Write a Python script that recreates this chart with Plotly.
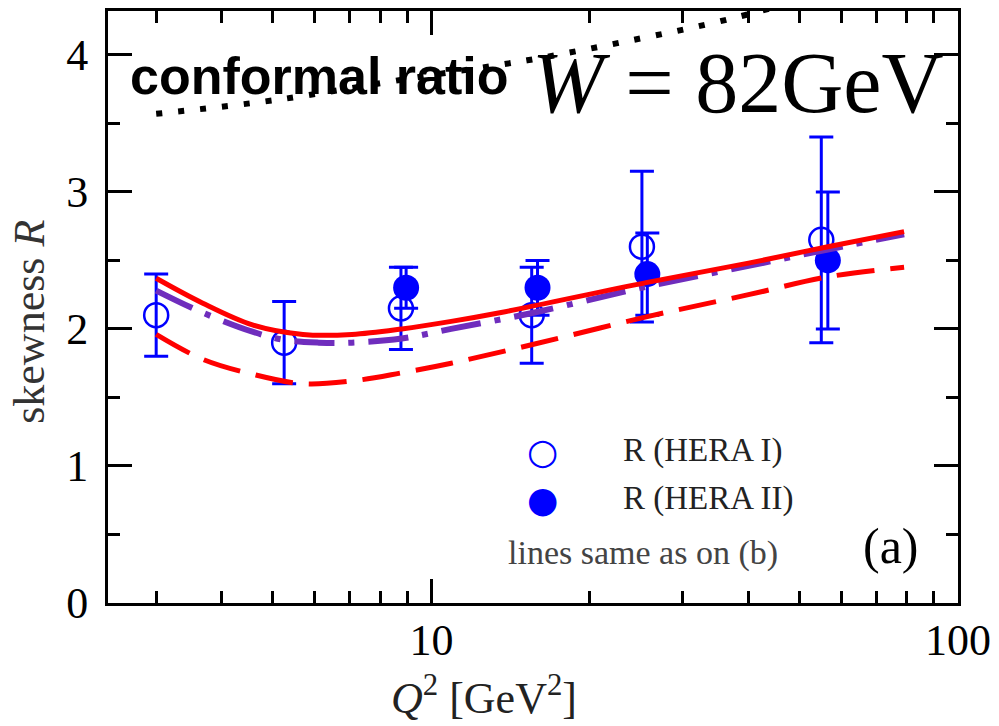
import plotly.graph_objects as go
import numpy as np

# HERA I / HERA II skewness ratio measurements
q2_hera1 = [3.0, 5.25, 8.75, 15.5, 25.1, 55.0]
r_hera1 = [2.10, 1.90, 2.15, 2.10, 2.60, 2.65]
err_hera1 = [0.30, 0.30, 0.30, 0.35, 0.55, 0.75]

q2_hera2 = [8.95, 15.9, 25.7, 56.6]
r_hera2 = [2.30, 2.30, 2.40, 2.50]
err_hera2 = [0.15, 0.20, 0.30, 0.50]

# model curves
q2_solid = [3.0, 3.67, 4.57, 5.7, 7.06, 8.78, 10.9, 13.56, 25.7, 40.0, 56.6, 79.0]
r_solid = [2.37, 2.19, 2.03, 1.96, 1.96, 2.00, 2.055, 2.12, 2.34, 2.48, 2.60, 2.71]

q2_dashdot = [3.0, 3.67, 4.57, 5.25, 6.11, 7.06, 8.78, 10.9, 15.7, 25.7, 40.0, 56.6, 79.0]
r_dashdot = [2.28, 2.12, 1.98, 1.92, 1.90, 1.90, 1.93, 2.00, 2.12, 2.31, 2.46, 2.58, 2.69]

q2_dashed = [3.0, 3.67, 4.57, 5.7, 7.06, 8.78, 10.9, 15.7, 25.7, 40.0, 56.6, 79.0]
r_dashed = [1.96, 1.78, 1.67, 1.60, 1.62, 1.68, 1.75, 1.89, 2.09, 2.25, 2.38, 2.45]

# conformal ratio
q2_conf = [3.0, 5.05, 9.17, 15.2, 20.9, 25.7, 31.4, 38.5, 46.0]
r_conf = [3.57, 3.67, 3.83, 3.96, 4.06, 4.13, 4.20, 4.28, 4.36]

BLUE = "#0000ff"
RED = "#ff0000"
PURPLE = "#6f2dbd"
SERIF = "Liberation Serif"

fig = go.Figure()

fig.add_trace(go.Scatter(
    x=q2_hera1, y=r_hera1, mode="markers", name="R (HERA I)",
    marker=dict(symbol="circle-open", size=24, color=BLUE, line=dict(width=2.5, color=BLUE)),
    error_y=dict(type="data", array=err_hera1, thickness=3, width=12, color=BLUE),
))
fig.add_trace(go.Scatter(
    x=q2_hera2, y=r_hera2, mode="markers", name="R (HERA II)",
    marker=dict(symbol="circle", size=26, color=BLUE),
    error_y=dict(type="data", array=err_hera2, thickness=3, width=12, color=BLUE),
))

fig.add_trace(go.Scatter(
    x=q2_conf, y=r_conf, mode="lines",
    line=dict(color="black", width=6, dash="6px,16px", shape="spline"),
))
fig.add_trace(go.Scatter(
    x=q2_dashed, y=r_dashed, mode="lines",
    line=dict(color=RED, width=5, dash="38px,16px", shape="spline"),
))
fig.add_trace(go.Scatter(
    x=q2_dashdot, y=r_dashdot, mode="lines",
    line=dict(color=PURPLE, width=6, dash="40px,14px,6px,14px", shape="spline"),
))
fig.add_trace(go.Scatter(
    x=q2_solid, y=r_solid, mode="lines",
    line=dict(color=RED, width=5, shape="spline"),
))

axis_common = dict(
    showline=True, linewidth=3, linecolor="black", mirror="allticks",
    ticks="inside", ticklen=24, tickwidth=3, tickcolor="black",
    showgrid=False, zeroline=False,
    tickfont=dict(family=SERIF, size=44, color="black"),
)

fig.update_xaxes(
    type="log", range=[np.log10(2.43), 2.0],
    tickmode="linear", tick0=0, dtick=1,
    minor=dict(dtick="D1", ticks="inside", ticklen=12, tickwidth=3, tickcolor="black", showgrid=False),
    ticklabelstandoff=-4,
    **axis_common,
)
fig.update_yaxes(
    range=[0, 4.32], tickmode="linear", tick0=0, dtick=1,
    minor=dict(dtick=0.5, ticks="inside", ticklen=12, tickwidth=3, tickcolor="black", showgrid=False),
    ticklabelstandoff=8,
    **axis_common,
)


def px_x(px):
    return (px - 108) / 854


def px_y(py):
    return (603 - py) / 595


def note(text, x, y, size, family=SERIF, color="black", xanchor="center", **kw):
    return dict(text=text, x=px_x(x), y=px_y(y), xref="paper", yref="paper",
                xanchor=xanchor, yanchor="middle", showarrow=False,
                font=dict(family=family, size=size, color=color), **kw)


annotations = [
    note("<b>conformal ratio</b>", 320, 73, 52, family="Liberation Sans"),
    note("<i>W</i> = 82GeV", 741, 80, 86),
    # legend
    note("○", 545, 451, 36, family="DejaVu Sans", color=BLUE),
    note("●", 545, 499, 36, family="DejaVu Sans", color=BLUE),
    note("R (HERA I)", 623, 450, 33, color="#222222", xanchor="left"),
    note("R (HERA II)", 623, 498, 33, color="#222222", xanchor="left"),
    note("lines same as on (b)", 646, 553, 34, color="#444444"),
    note("(a)", 895, 546, 50),
    # axis titles
    note("<i>Q</i><sup>2</sup> [GeV<sup>2</sup>]", 486, 696, 44, color="#222222"),
    note("skewness <i>R</i>", 29, 320, 44, color="#333333", textangle=-90),
]

fig.update_layout(
    width=999, height=726,
    margin=dict(l=108, r=37, t=8, b=123),
    paper_bgcolor="white", plot_bgcolor="white",
    annotations=annotations,
    showlegend=False,
)

fig.write_html("out.html")
